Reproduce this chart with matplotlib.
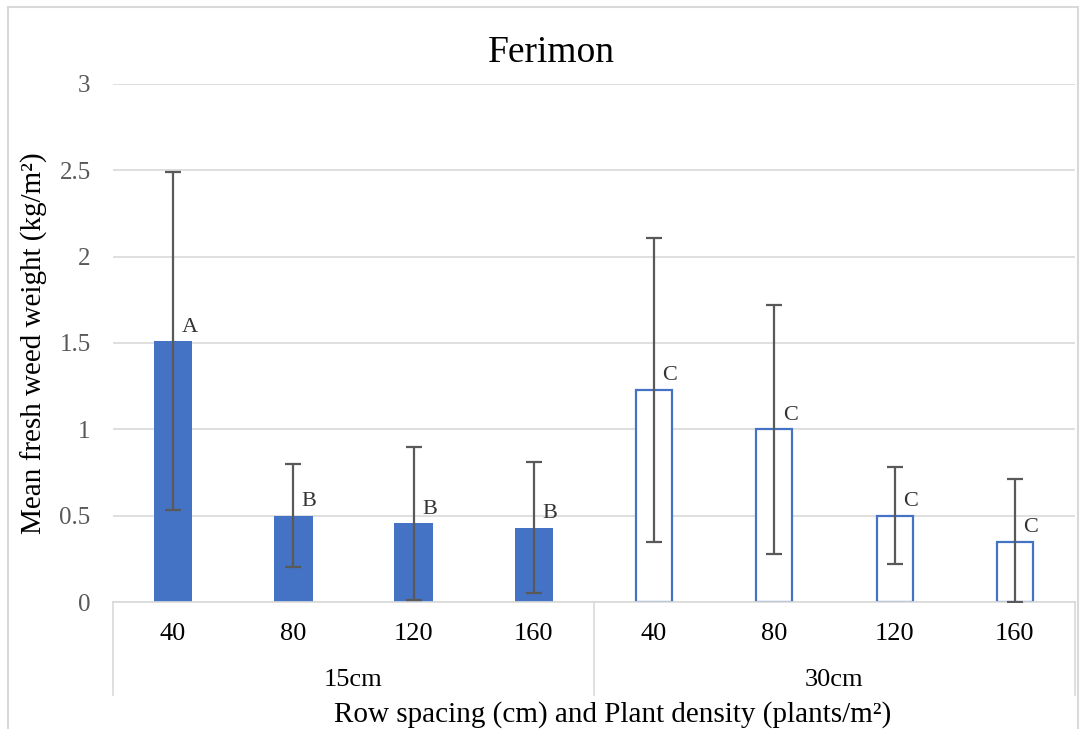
import matplotlib.pyplot as plt
from matplotlib.patches import Rectangle
import numpy as np

# data
densities = ["40", "80", "120", "160", "40", "80", "120", "160"]
spacings = ["15cm", "30cm"]
means = [1.51, 0.50, 0.455, 0.43, 1.23, 1.00, 0.50, 0.35]
errors = [0.98, 0.30, 0.445, 0.38, 0.88, 0.72, 0.28, 0.36]
letters = ["A", "B", "B", "B", "C", "C", "C", "C"]

BLUE = "#4472C4"
GREY = "#595959"
GRID = "#d9d9d9"

plt.rcParams["font.family"] = ["Liberation Serif", "DejaVu Serif"]

fig = plt.figure(figsize=(10.83, 7.29), dpi=100)
ax = fig.add_axes([0.1043, 0.1742, 0.8883, 0.7106])

x = np.arange(len(means))
filled = x < 4
ax.bar(x[filled], np.array(means)[filled], width=0.32, color=BLUE, zorder=2)
ax.bar(x[~filled], np.array(means)[~filled], width=0.30, facecolor="white",
       edgecolor=BLUE, linewidth=1.6, zorder=2)
lower = np.minimum(errors, means)
ax.errorbar(x, means, yerr=[lower, errors], fmt="none", ecolor=GREY,
            elinewidth=1.6, capsize=6, capthick=1.6, zorder=3)

for xi, m, lab in zip(x, means, letters):
    ax.text(xi + 0.07, m + 0.025, lab, fontsize=16, color="#333333",
            ha="left", va="bottom", zorder=4)

ax.set_xlim(-0.5, len(means) - 0.5)
ax.set_ylim(0, 3)
ax.set_yticks([0, 0.5, 1, 1.5, 2, 2.5, 3])
ax.set_yticklabels(["0", "0.5", "1", "1.5", "2", "2.5", "3"])
ax.tick_params(axis="y", length=0, labelsize=18, colors=GREY, pad=16)
ax.set_xticks([])
ax.yaxis.grid(True, color=GRID, linewidth=1.2, zorder=0)
ax.set_axisbelow(True)
for side in ["top", "right", "left"]:
    ax.spines[side].set_visible(False)
ax.spines["bottom"].set_color(GRID)
ax.spines["bottom"].set_linewidth(1.2)

# two-level category axis
trans = ax.get_xaxis_transform()
for xi, d in zip(x, densities):
    ax.text(xi, -0.062, d, transform=trans, ha="center", va="center",
            fontsize=19, color="black")
for gi, s in enumerate(spacings):
    ax.text(gi * 4 + 1.5, -0.15, s, transform=trans, ha="center",
            va="center", fontsize=19, color="black")
for xv in [-0.5, 3.5, 7.5]:
    ax.plot([xv, xv], [0, -0.18], transform=trans, color=GRID,
            linewidth=1.2, clip_on=False)

fig.text(0.509, 0.928, "Ferimon", ha="center", va="center", fontsize=27)
ax.set_ylabel("Mean fresh weed weight (kg/m²)", fontsize=21, labelpad=8)
fig.text(0.566, 0.02, "Row spacing (cm) and Plant density (plants/m²)",
         ha="center", va="center", fontsize=21)

fig.patches.append(Rectangle((0.0074, -0.01), 0.988, 1.0004, transform=fig.transFigure,
                             fill=False, edgecolor=GRID, linewidth=1.5))

fig.savefig("out.png", dpi=100)
